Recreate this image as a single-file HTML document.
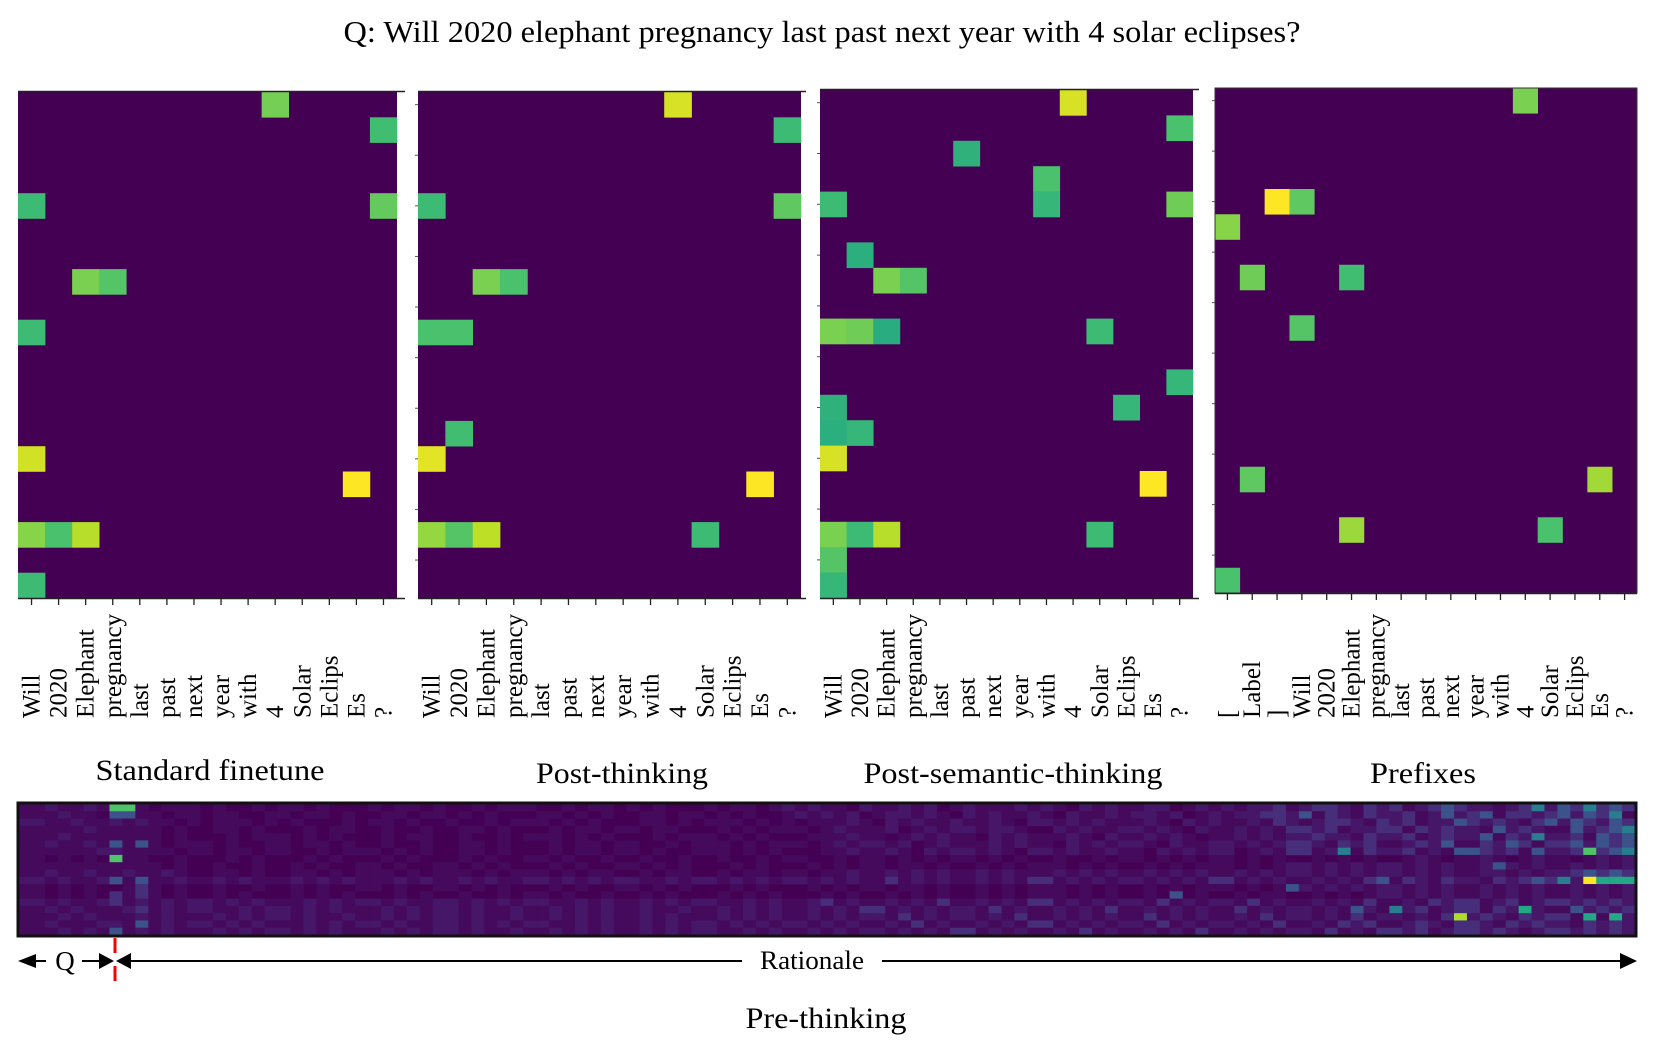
<!DOCTYPE html>
<html><head><meta charset="utf-8"><style>
html,body{margin:0;padding:0;background:#fff;}
svg{display:block;}
text{font-family:"Liberation Serif",serif;fill:#000;}
</style></head><body>
<svg id="fig" width="1661" height="1057" viewBox="0 0 1661 1057" xmlns="http://www.w3.org/2000/svg">
<text x="822" y="42" font-size="31" text-anchor="middle" textLength="957" lengthAdjust="spacingAndGlyphs">Q: Will 2020 elephant pregnancy last past next year with 4 solar eclipses?</text>
<g id="panels"></g>
<g id="bottom"></g>
</svg>
<script>
// ---- data ----
const qTokens = ["Will","2020","Elephant","pregnancy","last","past","next","year","with","4","Solar","Eclips","Es","?"];
const prefixTokens = ["[","Label","]","Will","2020","Elephant","pregnancy","last","past","next","year","with","4","Solar","Eclips","Es","?"];
const rowCount = 20;
// cells: [row, col, value 0..1]
const cellsStandard = [[0,9,0.79],[1,13,0.69],[4,0,0.68],[4,13,0.76],[7,2,0.80],[7,3,0.73],[9,0,0.68],[14,0,0.93],[15,12,1.0],[17,0,0.82],[17,1,0.71],[17,2,0.89],[19,0,0.68]];
const cellsPost = [[0,9,0.94],[1,13,0.68],[4,0,0.68],[4,13,0.75],[7,2,0.80],[7,3,0.71],[9,0,0.71],[9,1,0.71],[13,1,0.69],[14,0,0.96],[15,12,1.0],[17,0,0.84],[17,1,0.73],[17,2,0.90],[17,10,0.68]];
const cellsSemantic = [[0,9,0.94],[1,13,0.71],[2,5,0.64],[3,8,0.71],[4,8,0.66],[4,0,0.68],[4,13,0.78],[6,1,0.63],[7,2,0.80],[7,3,0.73],[9,0,0.80],[9,1,0.78],[9,2,0.62],[9,10,0.68],[11,13,0.66],[12,0,0.64],[12,11,0.66],[13,0,0.63],[13,1,0.66],[14,0,0.94],[15,12,1.0],[17,0,0.80],[17,1,0.68],[17,2,0.89],[17,10,0.68],[18,0,0.73],[19,0,0.66]];
const cellsPrefix = [[0,12,0.80],[4,2,1.0],[4,3,0.75],[5,0,0.82],[7,1,0.78],[7,5,0.69],[9,3,0.73],[15,1,0.75],[15,15,0.86],[17,5,0.85],[17,13,0.71],[19,0,0.71]];
// bottom pre-thinking strip: per-row intensity levels (0-9), sampled across the strip width
const stripRows = [
"1211210710110100101101001011010010110010110101001011012121021121201211212102121120121212231232132312343212312432343",
"1121101410110110010110100101101010011010100101101010121212012121021212102112121201212232413213231242341323424341",
"2112111211010110101001011010100101101010011010110101011210212121121021212112102121213212321323124323213243243",
"1111211110101101001011010010110100101101011001010110121120121212210212112121021212132312231323214232142343",
"1121111110100101101010010110100101101010010110101001112101212102121121021212101212123221323123241323231434",
"1211211410110100101101010010110100101101001011010110121212012112121021212102112121232132312324132431342434",
"1111121111010110100101101010110100101101010011010100112121021212102121121021212012131231323121432314237342",
"1010101100100101001010010100101001010010100101001010010101010101010100101010101010101010101210121012101212",
"1111111110101001010100101001010100101001010100101001010101101010101101010101011010121212121212121212121212",
"1211212112101101011010110101101011010110101101011010112121212121211212121212121212121212121212122121234343",
"2121121411212121121212112121212112121212112121212121212131212121213121212121213121212121313213213232321297",
"1010101310101001010100101001010100101001010100101001010101101010101101010101011010121212121212121212121212",
"1010101310101010010101001010100101010010101001010100101010101010101101010101010101101010121212121212121212",
"2121121212121212112121212112121212112121212121121212312121213121213121212131212131212121312132312312323232",
"1212112312121121212121121212121121212121211212121212121312121213121212131212121312121213212312313232132323",
"1121211212112121212112121212121121212121212112121212121213121212131212121312121213121213121213232132312132",
"1211121412121212112121212112121212112121212121212121212121312121213121212131212121312132312321321323213232",
"1121211212112121212121121212121121212121212121121212121212121312121213121212131212121312132312323212323232"
];
// bright highlight cells in strip: [row, col, level]
const stripHighlights = [[0,7,7],[1,7,4],[2,7,2],[5,7,4],[7,7,7],[10,7,4],[12,7,3],[13,7,3],[17,7,4],[10,121,9],[10,122,6],[10,123,6],[10,124,6],[10,119,5],[10,117,4],[6,121,7],[6,124,5],[15,111,8],[14,116,6],[15,121,6],[15,123,6],[14,106,5],[14,120,4],[3,124,5],[1,123,5],[4,117,5],[6,102,5],[10,105,4],[12,89,4],[11,98,4],[0,117,5],[0,121,5],[2,118,4],[14,103,4],[8,114,4]];
const stripLevelValues = [0,0.025,0.06,0.13,0.25,0.42,0.6,0.72,0.88,1.0];
const stripCols = 125;

// ---- helpers ----
const stops = ["#440154","#482475","#414487","#355f8d","#2a788e","#21918c","#22a884","#44bf70","#7ad151","#bddf26","#fde725"];
function hex(h){return [parseInt(h.slice(1,3),16),parseInt(h.slice(3,5),16),parseInt(h.slice(5,7),16)];}
function viridis(v){v=Math.max(0,Math.min(1,v));const t=v*10;const i=Math.min(9,Math.floor(t));const f=t-i;const a=hex(stops[i]),b=hex(stops[i+1]);
return "rgb("+a.map((x,k)=>Math.round(x+(b[k]-x)*f)).join(",")+")";}
const NS="http://www.w3.org/2000/svg";
function mk(tag,attrs,parent){const e=document.createElementNS(NS,tag);for(const k in attrs)e.setAttribute(k,attrs[k]);parent.appendChild(e);return e;}

const panelsG=document.getElementById('panels');
const panels=[
 {name:"standard-finetune",x0:18,w:379,y0:92,h:506,axisEnd:405,tokens:qTokens,cells:cellsStandard,title:"Standard finetune",tx:210,ty:780,tl:229,frame:false,yt:false},
 {name:"post-thinking",x0:418,w:383,y0:92,h:506,axisEnd:806,tokens:qTokens,cells:cellsPost,title:"Post-thinking",tx:622,ty:783,tl:172,frame:false,yt:true},
 {name:"post-semantic-thinking",x0:820,w:373,y0:90,h:508,axisEnd:1199,tokens:qTokens,cells:cellsSemantic,title:"Post-semantic-thinking",tx:1013,ty:783,tl:299,frame:false,yt:true},
 {name:"prefixes",x0:1215,w:422,y0:88,h:505,axisEnd:1637,tokens:prefixTokens,cells:cellsPrefix,title:"Prefixes",tx:1423,ty:783,tl:106,frame:true,yt:true}
];
panels.forEach(p=>{
 const g=mk('g',{},panelsG);
 
 
 const n=p.tokens.length;const cw=p.w/n;const rh=p.h/rowCount;
 const xs=c=>p.x0+c*cw, ys=r=>p.y0+r*rh;
 const bg=mk('rect',{x:p.x0,y:p.y0,width:p.w,height:p.h,fill:viridis(0)},g);
 
 
 p.cells.forEach(([r,c,v])=>{
  const rc=mk('rect',{x:xs(c),y:ys(r),width:cw+0.3,height:rh+0.3,fill:viridis(v)},g);
  
  
 });
 if(p.frame){mk('rect',{x:p.x0,y:p.y0,width:p.w,height:p.h,fill:"none",stroke:"#333","stroke-width":1},g);}
 else{
  mk('line',{x1:p.x0,y1:p.y0-0.5,x2:p.axisEnd,y2:p.y0-0.5,stroke:"#222","stroke-width":1.5},g);
 }
 const ax=mk('line',{x1:p.x0,y1:p.y0+p.h+0.5,x2:p.axisEnd,y2:p.y0+p.h+0.5,stroke:"#222","stroke-width":1.5},g);
 
 
 if(p.yt){for(let r=0;r<rowCount;r+=2){mk('line',{x1:p.x0-3,y1:ys(r)+rh/2,x2:p.x0,y2:ys(r)+rh/2,stroke:"#555","stroke-width":1},g);}}
 p.tokens.forEach((t,c)=>{
  const cx=xs(c)+cw/2;
  mk('line',{x1:cx,y1:p.y0+p.h,x2:cx,y2:p.y0+p.h+7,stroke:"#222","stroke-width":1.3},g);
  const tx=mk('text',{x:0,y:0,"font-size":25,transform:"translate("+(cx+8)+",718) rotate(-90)"},g);
  tx.textContent=t;
  
  
 });
 const tt=mk('text',{x:p.tx,y:p.ty,"font-size":30,"text-anchor":"middle",textLength:p.tl,lengthAdjust:"spacingAndGlyphs"},g);
 tt.textContent=p.title;
 
 
});

// bottom strip
const bg2=document.getElementById('bottom');


const sx0=19,sx1=1635,sy0=804,sy1=935;
const scw=(sx1-sx0)/stripCols, srh=(sy1-sy0)/stripRows.length;
mk('rect',{x:sx0,y:sy0,width:sx1-sx0,height:sy1-sy0,fill:viridis(0)},bg2);
const grid=stripRows.map(s=>{const out=[];for(let c=0;c<stripCols;c++){out.push(Number(s[Math.floor(c*s.length/stripCols)]));}return out;});
stripHighlights.forEach(([r,c,l])=>{grid[r][c]=l;});
grid.forEach((row,r)=>row.forEach((l,c)=>{
 if(l===0)return;
 const rc=mk('rect',{x:sx0+c*scw,y:sy0+r*srh,width:scw+0.3,height:srh+0.3,fill:viridis(stripLevelValues[l])},bg2);
 
 
}));
mk('rect',{x:sx0-1,y:sy0-1,width:sx1-sx0+2,height:sy1-sy0+2,fill:"none",stroke:"#111","stroke-width":3},bg2);

// annotations
const ann=mk('g',{},document.getElementById('fig'));


const ay=961;
mk('polygon',{points:"18,"+ay+" 36,"+(ay-7)+" 36,"+(ay+7),fill:"#000"},ann);
mk('line',{x1:34,y1:ay,x2:46,y2:ay,stroke:"#000","stroke-width":2},ann);
const qt=mk('text',{x:65,y:ay+9,"font-size":27,"text-anchor":"middle"},ann);qt.textContent="Q";


mk('line',{x1:82,y1:ay,x2:102,y2:ay,stroke:"#000","stroke-width":2},ann);
mk('polygon',{points:"114,"+ay+" 99,"+(ay-8)+" 99,"+(ay+8),fill:"#000"},ann);
mk('polygon',{points:"116,"+ay+" 131,"+(ay-8)+" 131,"+(ay+8),fill:"#000"},ann);
mk('line',{x1:129,y1:ay,x2:742,y2:ay,stroke:"#000","stroke-width":2},ann);
const rt=mk('text',{x:812,y:ay+8,"font-size":26,"text-anchor":"middle",textLength:104,lengthAdjust:"spacingAndGlyphs"},ann);rt.textContent="Rationale";


mk('line',{x1:882,y1:ay,x2:1622,y2:ay,stroke:"#000","stroke-width":2},ann);
mk('polygon',{points:"1637,"+ay+" 1620,"+(ay-8)+" 1620,"+(ay+8),fill:"#000"},ann);
const rl=mk('line',{x1:115,y1:938,x2:115,y2:984,stroke:"#f00","stroke-width":3,"stroke-dasharray":"15 13"},ann);


const pt=mk('text',{x:826,y:1028,"font-size":30,"text-anchor":"middle",textLength:161,lengthAdjust:"spacingAndGlyphs"},ann);pt.textContent="Pre-thinking";


</script>
</body></html>
